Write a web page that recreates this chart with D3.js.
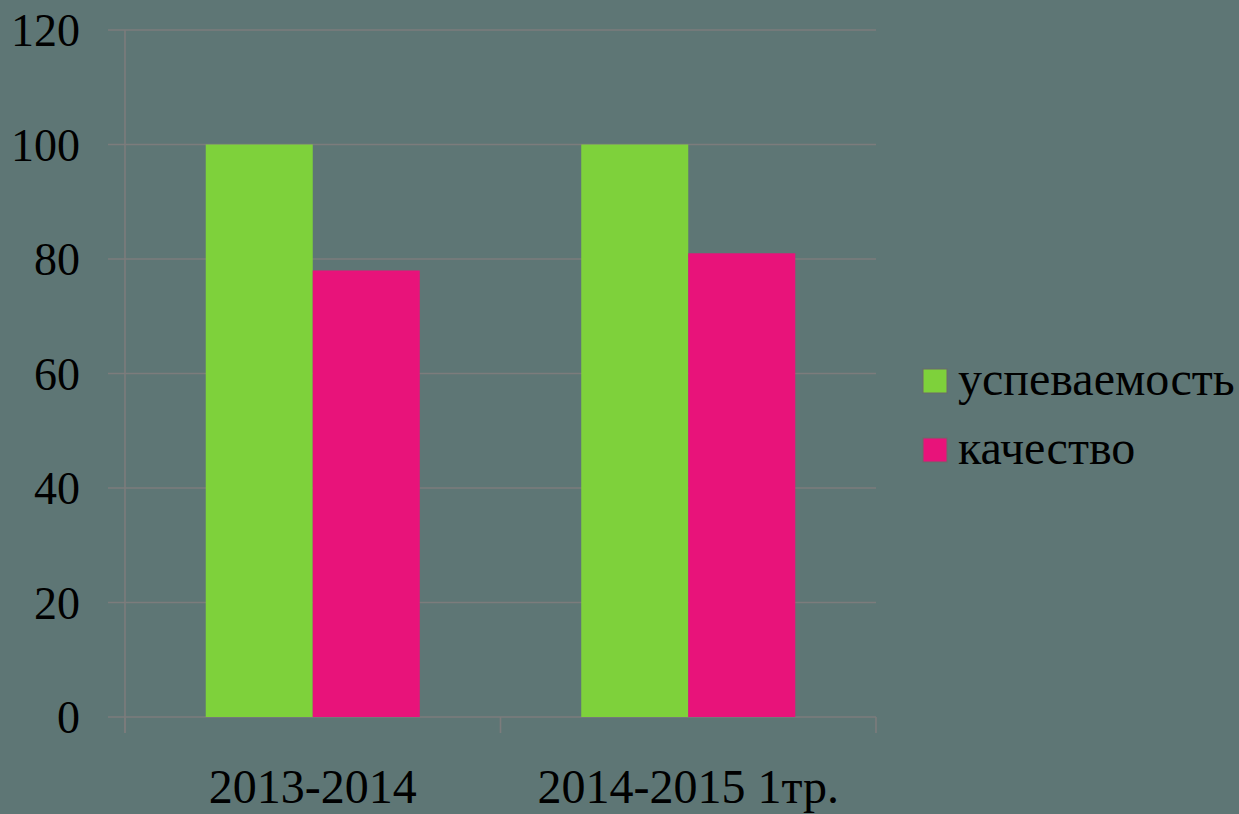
<!DOCTYPE html>
<html>
<head>
<meta charset="utf-8">
<script src="https://cdn.jsdelivr.net/npm/d3@7"></script>
<style>
  html, body { margin: 0; padding: 0; background: #5e7675; }
  svg { display: block; }
</style>
</head>
<body>
<svg id="chart" width="1239" height="814"></svg>
<script>
// Academic results by period
const categories = ["2013-2014", "2014-2015 1тр."];
const seriesNames = ["успеваемость", "качество"];
const successRate = [100, 100];
const qualityRate = [78, 81];
const yTicks = [0, 20, 40, 60, 80, 100, 120];
const colors = ["#7ed13b", "#e8137a"];

const seriesValues = [successRate, qualityRate];

const svg = d3.select("#chart");
const font = "'Liberation Serif', 'Times New Roman', serif";

const plot = { left: 125, right: 876, top: 30, bottom: 717 };

const y = d3.scaleLinear().domain([0, 120]).range([plot.bottom, plot.top]);
const x0 = d3.scaleBand().domain(categories).range([plot.left, plot.right]).padding(0);
const barW = x0.bandwidth() * 0.285;
const x1 = d3.scaleBand().domain(seriesNames).range([0, barW * 2]).padding(0);

const gridColor = "#7c7c7c";

// Horizontal gridlines
svg.append("g")
  .selectAll("line")
  .data(yTicks)
  .join("line")
  .attr("x1", plot.left - 17)
  .attr("x2", plot.right)
  .attr("y1", d => y(d))
  .attr("y2", d => y(d))
  .attr("stroke", gridColor)
  .attr("stroke-width", 1.6);

// Vertical axis line
svg.append("line")
  .attr("x1", plot.left).attr("x2", plot.left)
  .attr("y1", plot.top).attr("y2", plot.bottom + 16)
  .attr("stroke", gridColor).attr("stroke-width", 1.6);

// Category tick marks
const catEdges = [plot.left, ...categories.map(c => x0(c) + x0.bandwidth())];
svg.append("g")
  .selectAll("line")
  .data(catEdges)
  .join("line")
  .attr("x1", d => d).attr("x2", d => d)
  .attr("y1", plot.bottom).attr("y2", plot.bottom + 16)
  .attr("stroke", gridColor).attr("stroke-width", 1.6);

// Y tick labels
svg.append("g")
  .selectAll("text")
  .data(yTicks)
  .join("text")
  .attr("x", 80)
  .attr("y", d => y(d))
  .attr("dy", "0.35em")
  .attr("text-anchor", "end")
  .attr("font-family", font)
  .attr("font-size", 46)
  .attr("fill", "#000")
  .text(d => d);

// Bars
const groups = svg.append("g")
  .selectAll("g")
  .data(categories)
  .join("g")
  .attr("transform", c => `translate(${x0(c) + x0.bandwidth() / 2 - barW},0)`);

groups.selectAll("rect")
  .data((c, i) => seriesNames.map((s, j) => ({ s, v: seriesValues[j][i], j })))
  .join("rect")
  .attr("x", d => x1(d.s))
  .attr("width", x1.bandwidth())
  .attr("y", d => y(d.v))
  .attr("height", d => y(0) - y(d.v))
  .attr("fill", d => colors[d.j]);

// Category labels
svg.append("g")
  .selectAll("text")
  .data(categories)
  .join("text")
  .attr("x", c => x0(c) + x0.bandwidth() / 2)
  .attr("y", 803)
  .attr("text-anchor", "middle")
  .attr("font-family", font)
  .attr("font-size", 48)
  .attr("fill", "#000")
  .text(c => c);

// Legend
const legend = svg.append("g")
  .selectAll("g")
  .data(seriesNames)
  .join("g")
  .attr("transform", (d, i) => `translate(923,${369 + i * 69})`);

legend.append("rect")
  .attr("width", 24).attr("height", 24)
  .attr("fill", (d, i) => colors[i])
  .attr("stroke", "#6a6a6a").attr("stroke-width", 1);

legend.append("text")
  .attr("x", 35)
  .attr("y", 26)
  .attr("font-family", font)
  .attr("font-size", 48)
  .attr("fill", "#000")
  .text(d => d);
</script>
</body>
</html>
